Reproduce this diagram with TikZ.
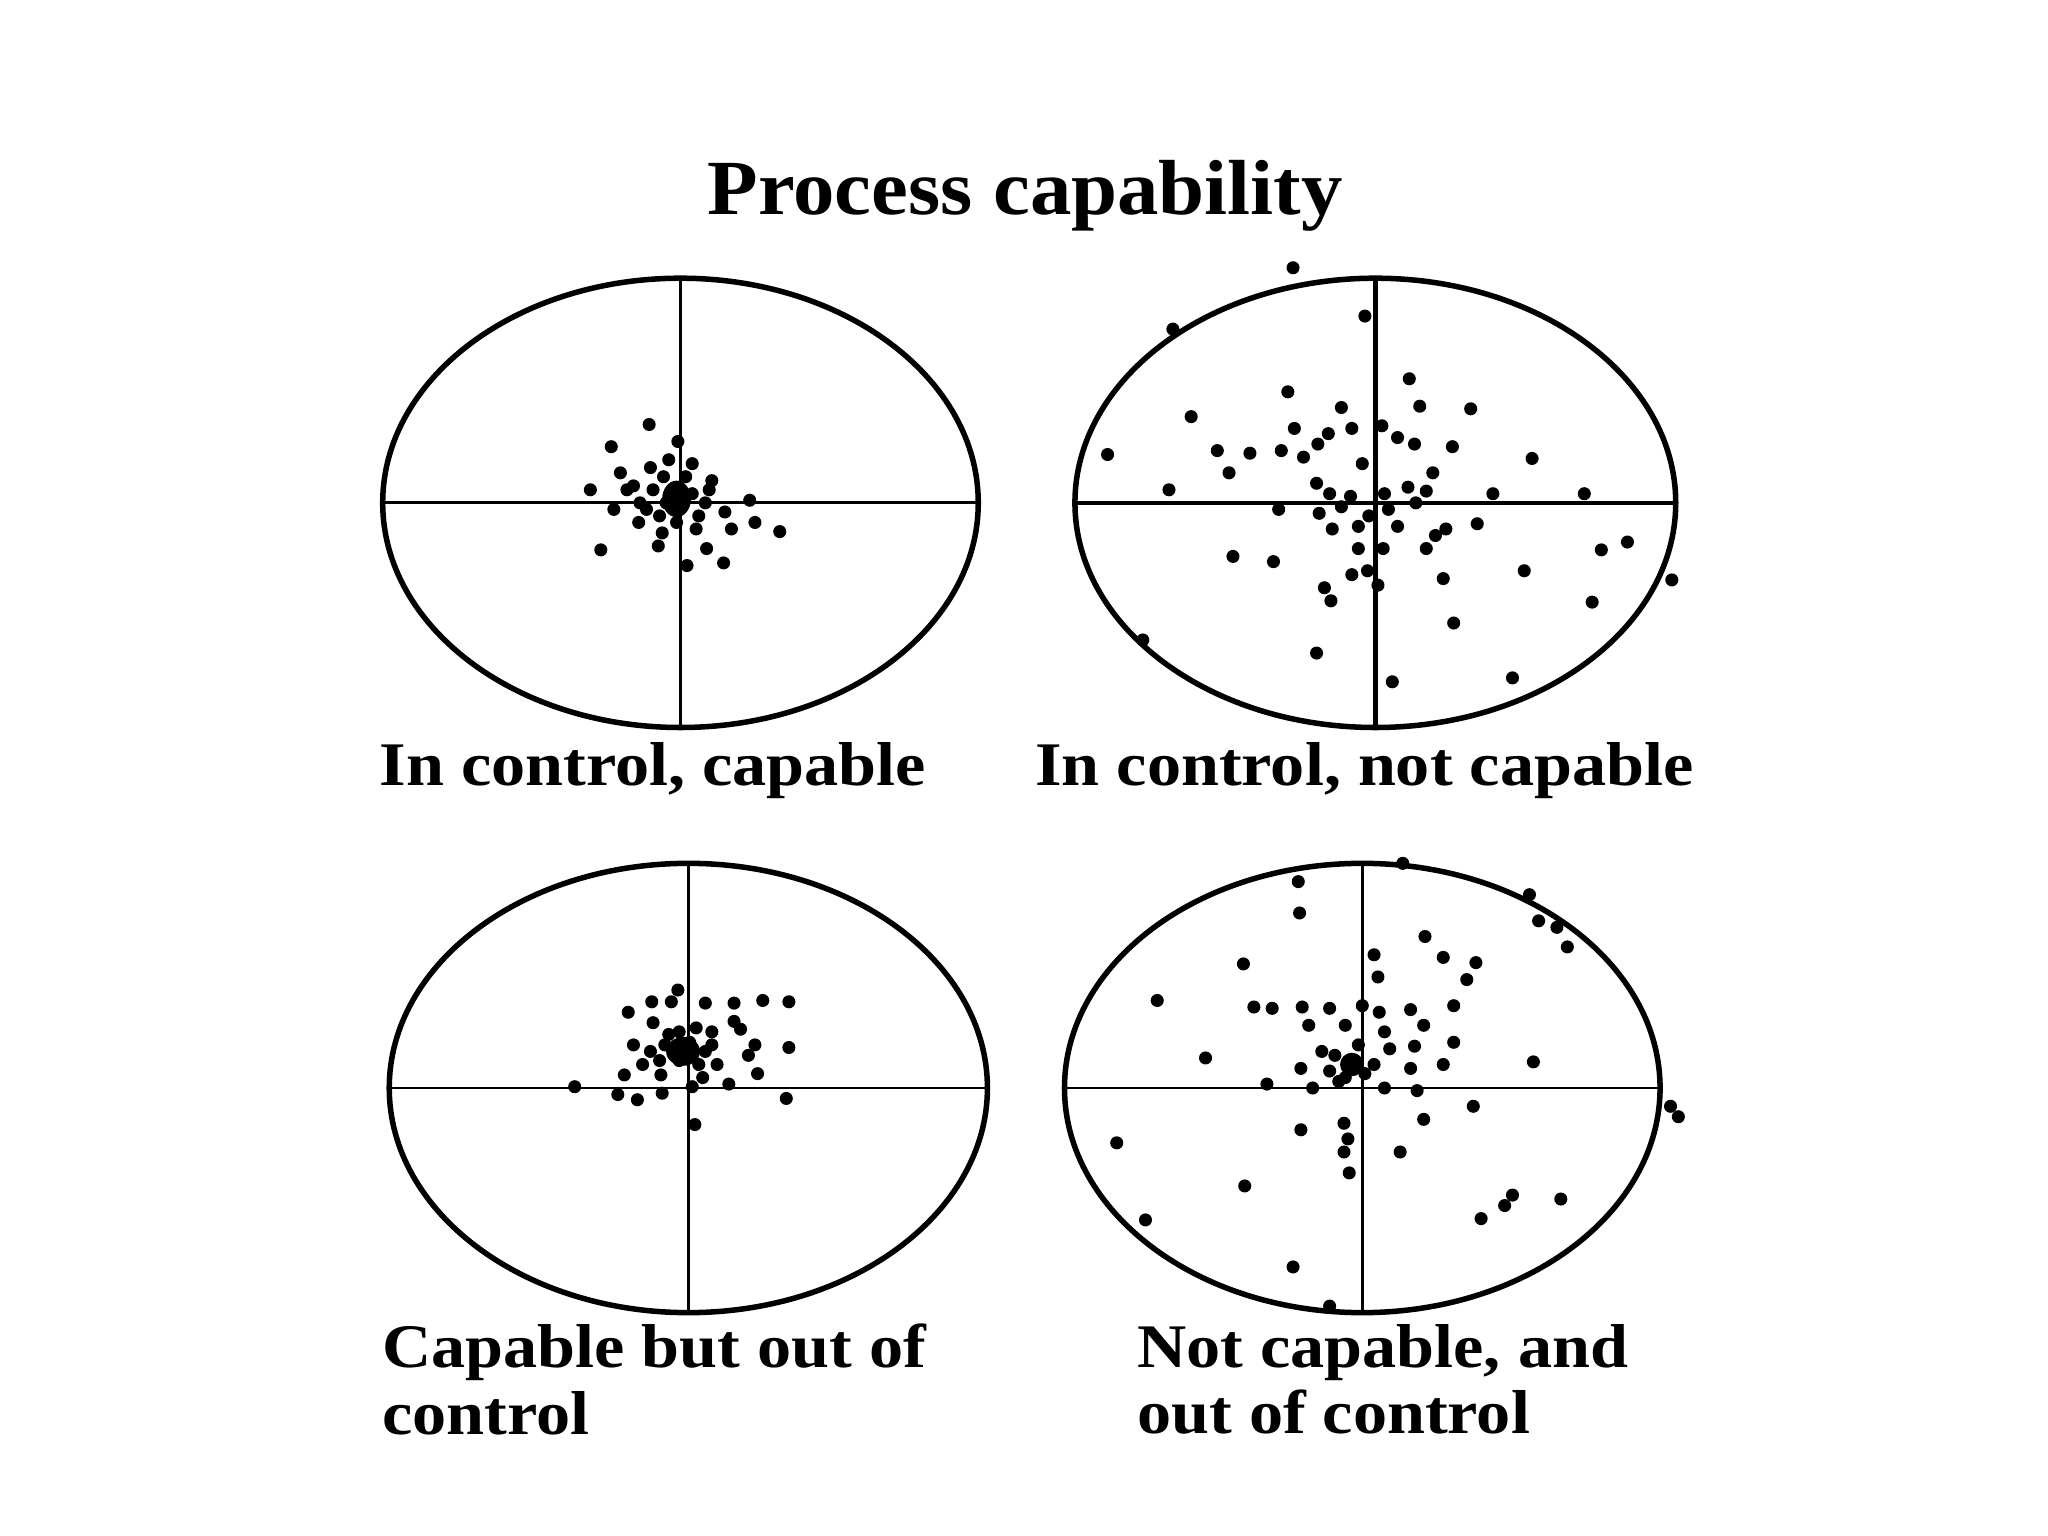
\documentclass[tikz,border=0pt]{standalone}
\usepackage{fontspec}
\setmainfont{Liberation Serif}
\begin{document}
\begin{tikzpicture}[x=0.01cm,y=-0.01cm,
  ring/.style={line width=1.2pt},
  axis/.style={line width=0.6pt},
  lbl/.style={anchor=west,font=\bfseries\fontsize{13.5}{14.5}\selectfont,align=left,inner sep=0pt}]
\useasboundingbox (0,0) rectangle (1568,1176);
\node (title) at (785,150) {\scalebox{1.06}[1]{\bfseries\fontsize{17}{20}\selectfont Process capability}};
% TL
\coordinate (c1) at (521,385);
\draw[ring] (c1) ellipse (228 and 172);
\draw[axis] (293,385) -- (749,385) (521,213) -- (521,557);
\fill (518,382) ellipse (11 and 14);
\foreach \p in {(497,325),(468,342),(519,338),(475,362),(498,358),(530,355),(452,375),(480,375),(545,368),(574,383),(489,400),(507,408),(533,405),(560,405),(578,400),(597,407),(460,421),(504,418),(541,420),(526,433),(554,431),(470,390),(555,392),(490,385),(540,385),(500,375),(535,395),(508,365),(525,365),(505,395),(530,378),(510,385),(485,372),(543,375),(518,400),(512,352),(495,390)}
  \fill \p circle (5);
% TR
\coordinate (c2) at (1053,385);
\draw[ring] (c2) ellipse (230 and 172);
\draw[line width=1pt] (823,385) -- (1283,385) (1053,213) -- (1053,557);
\foreach \p in {(990,205),(1045,242),(898,252),(1079,290),(986,300),(1027,312),(1087,311),(1126,313),(912,319),(991,328),(1017,332),(1035,328),(1058,326),(1070,335),(1083,340),(848,348),(932,345),(957,347),(981,345),(998,350),(1009,340),(1043,355),(1112,342),(1173,351),(941,362),(1097,362),(1008,370),(1018,378),(1034,380),(1060,378),(1078,373),(1092,376),(895,375),(1143,378),(1213,378),(979,390),(1010,393),(1027,388),(1048,395),(1063,390),(1084,385),(1020,405),(1040,403),(1070,403),(1107,405),(1131,401),(1246,415),(1226,421),(944,426),(975,430),(1092,420),(1099,410),(1035,440),(1047,437),(1055,448),(1105,443),(1167,437),(1280,444),(1014,450),(1019,460),(1219,461),(1113,477),(875,490),(1008,500),(1066,522),(1158,519),(1040,420),(1059,420)}
  \fill \p circle (5);
% BL
\coordinate (c3) at (527,833);
\draw[ring] (c3) ellipse (229 and 172);
\draw[axis] (298,833) -- (756,833) (527,661) -- (527,1005);
\fill (523,805) ellipse (13 and 11);
\foreach \p in {(519,758),(499,767),(514,767),(481,775),(540,768),(562,768),(584,766),(604,767),(500,783),(520,790),(533,787),(562,782),(567,788),(485,800),(509,800),(545,800),(578,800),(604,802),(492,815),(520,812),(549,815),(573,808),(478,823),(506,823),(538,825),(558,830),(580,822),(440,832),(473,838),(488,842),(507,837),(530,832),(602,841),(532,861),(498,805),(512,792),(535,815),(545,790),(528,798),(505,812),(540,805)}
  \fill \p circle (5);
% BR
\coordinate (c4) at (1043,833);
\draw[ring] (c4) ellipse (228 and 172);
\draw[axis] (815,833) -- (1271,833) (1043,661) -- (1043,1005);
\fill (1035,815) circle (9);
\foreach \p in {(1074,661),(994,675),(1171,685),(995,699),(1178,705),(1192,710),(1200,725),(1091,717),(1052,731),(1105,733),(1130,737),(952,738),(1055,748),(1123,750),(886,766),(960,771),(974,772),(997,771),(1018,772),(1043,770),(1056,775),(1080,773),(1113,770),(1002,785),(1030,785),(1060,790),(1090,785),(1040,800),(1012,805),(1064,803),(1083,801),(1113,798),(1174,813),(923,810),(996,818),(1018,820),(1052,815),(1080,818),(1105,815),(970,830),(1005,833),(1030,825),(1060,833),(1085,835),(1128,847),(1279,847),(1285,855),(1090,857),(996,865),(1029,860),(1032,872),(855,875),(1072,882),(1029,882),(1033,898),(953,908),(1158,915),(1152,923),(1195,918),(1134,933),(877,934),(990,970),(1018,1000),(1022,808),(1045,822),(1025,828)}
  \fill \p circle (5);
% labels
\node[lbl] (l1) at (290,590) {\scalebox{1.1}[1]{In control, capable}};
\node[lbl] (l2) at (792,590) {\scalebox{1.1}[1]{In control, not capable}};
\node[lbl] (l3) at (292,1056) {\scalebox{1.1}[1]{Capable but out of}\\\scalebox{1.1}[1]{control}};
\node[lbl] (l4) at (870,1056) {\scalebox{1.1}[1]{Not capable, and}\\\scalebox{1.1}[1]{out of control}};
\end{tikzpicture}
\end{document}
